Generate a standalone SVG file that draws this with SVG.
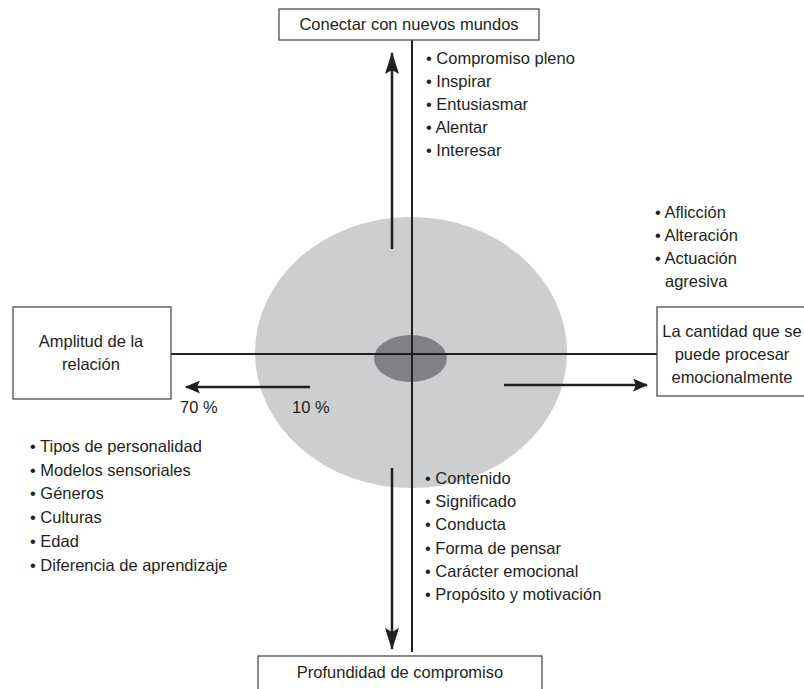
<svg xmlns="http://www.w3.org/2000/svg" width="804" height="689" viewBox="0 0 804 689">
<style>
text{font-family:"Liberation Sans",Arial,sans-serif;font-size:16.5px;fill:#231f20}
.box{fill:#fff;stroke:#4d4d4f;stroke-width:1.3}
.axis{stroke:#231f20;stroke-width:2;fill:none}
.arr{stroke:#231f20;stroke-width:2.5;fill:none}
.mid{text-anchor:middle}
</style>
<defs>
<marker id="headV" viewBox="0 0 22 14" refX="21" refY="7" markerWidth="22" markerHeight="14" markerUnits="userSpaceOnUse" orient="auto">
<path d="M0,0 L22,7 L0,14 L4,7 z" fill="#231f20"/>
</marker>
<marker id="headH" viewBox="0 0 15 13" refX="14" refY="6.5" markerWidth="15" markerHeight="13" markerUnits="userSpaceOnUse" orient="auto">
<path d="M0,0 L15,6.5 L0,13 L3,6.5 z" fill="#231f20"/>
</marker>
</defs>

<g id="circles">
<ellipse cx="411" cy="352.5" rx="156" ry="135.5" fill="#cdced0"/>
<ellipse cx="410.5" cy="358.5" rx="36.5" ry="23.5" fill="#808184"/>
</g>

<g id="connectors">
<line class="axis" x1="412" y1="40" x2="412" y2="652"/>
<line class="axis" x1="171" y1="354" x2="657" y2="354"/>
<line class="arr" x1="392" y1="249" x2="392" y2="53" marker-end="url(#headV)"/>
<line class="arr" x1="392" y1="468" x2="392" y2="649" marker-end="url(#headV)"/>
<line class="arr" x1="310" y1="387" x2="186" y2="387" marker-end="url(#headH)"/>
<line class="arr" x1="504" y1="385" x2="647" y2="385" marker-end="url(#headH)"/>
</g>

<g id="top">
<rect class="box" x="279" y="9" width="260" height="31"/>
<text class="mid" x="409" y="30">Conectar con nuevos mundos</text>
</g>

<g id="left">
<rect class="box" x="13" y="307" width="158" height="92"/>
<text class="mid" x="91" y="347">Amplitud de la</text>
<text class="mid" x="91" y="370">relación</text>
</g>

<g id="right">
<rect class="box" x="657" y="307" width="150" height="89"/>
<text class="mid" x="732" y="337">La cantidad que se</text>
<text class="mid" x="732" y="360">puede procesar</text>
<text class="mid" x="732" y="383">emocionalmente</text>
</g>

<g id="bottom">
<rect class="box" x="258" y="656" width="284" height="45"/>
<text class="mid" x="400" y="678">Profundidad de compromiso</text>
</g>

<g id="percent">
<text x="180" y="413">70 %</text>
<text x="292" y="413">10 %</text>
</g>

<g id="list-top">
<text x="426" y="64">• Compromiso pleno</text>
<text x="426" y="87">• Inspirar</text>
<text x="426" y="110">• Entusiasmar</text>
<text x="426" y="133">• Alentar</text>
<text x="426" y="156">• Interesar</text>
</g>

<g id="list-right">
<text x="655" y="218">• Aflicción</text>
<text x="655" y="241">• Alteración</text>
<text x="655" y="264">• Actuación</text>
<text x="665" y="287">agresiva</text>
</g>

<g id="list-left">
<text x="30" y="452">• Tipos de personalidad</text>
<text x="30" y="476">• Modelos sensoriales</text>
<text x="30" y="499">• Géneros</text>
<text x="30" y="523">• Culturas</text>
<text x="30" y="547">• Edad</text>
<text x="30" y="571">• Diferencia de aprendizaje</text>
</g>

<g id="list-bottom">
<text x="425" y="484">• Contenido</text>
<text x="425" y="507">• Significado</text>
<text x="425" y="530">• Conducta</text>
<text x="425" y="554">• Forma de pensar</text>
<text x="425" y="577">• Carácter emocional</text>
<text x="425" y="600">• Propósito y motivación</text>
</g>
</svg>
